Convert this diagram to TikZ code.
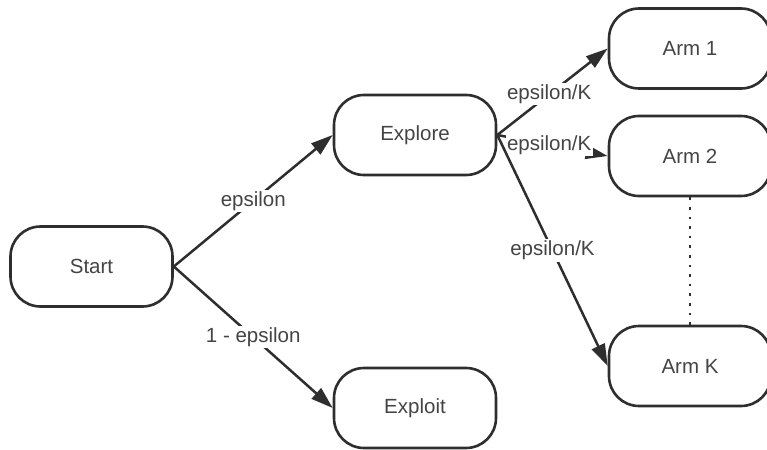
\documentclass[tikz,border=0pt]{standalone}
\usepackage{fontspec}
\setmainfont{Liberation Sans}
\usetikzlibrary{arrows.meta}
\definecolor{inkgray}{HTML}{2E2E2E}
\definecolor{textgray}{HTML}{444444}
\begin{document}
\begin{tikzpicture}[
        x=1pt, y=-1pt,
        state/.style={
            rectangle,
            draw=inkgray,
            line width=2.6pt,
            rounded corners=30pt,
            minimum width=162pt,
            minimum height=80pt,
            inner sep=0pt,
            text=textgray,
            font=\fontsize{20.5}{24}\selectfont
        },
        arrow/.style={
            -{Triangle[length=22pt,width=14pt]},
            draw=inkgray,
            line width=2.5pt
        },
        prob/.style={
            fill=white,
            inner sep=1.5pt,
            text=textgray,
            font=\fontsize{20.5}{24}\selectfont
        },
        dotline/.style={
            draw=inkgray,
            line width=2.6pt,
            dash pattern=on 2.6pt off 7pt
        }
    ]
        \useasboundingbox (0,0) rectangle (767,449);

        \node[state] (start) at (91.5,266.5) {Start};
        \node[state] (explore) at (415,135) {Explore};
        \node[state] (exploit) at (415,408) {Exploit};
        \node[state] (arm1) at (690,48.5) {Arm 1};
        \node[state] (arm2) at (690,156) {Arm 2};
        \node[state] (armK) at (690,366) {Arm K};

        \draw[arrow] (start.east) -- node[prob] {epsilon} (explore.west);
        \draw[arrow] (start.east) -- node[prob] {1 - epsilon} (exploit.west);
        \draw[arrow] (explore.east) -- node[prob, pos=0.47] {epsilon/K} (arm1.west);
        \draw[arrow] (explore.east) -- node[prob, pos=0.47] {epsilon/K} (arm2.west);
        \draw[arrow] (explore.east) -- node[prob] {epsilon/K} (armK.west);
        \draw[dotline] (arm2.south) -- (armK.north);

    \end{tikzpicture}
\end{document}
